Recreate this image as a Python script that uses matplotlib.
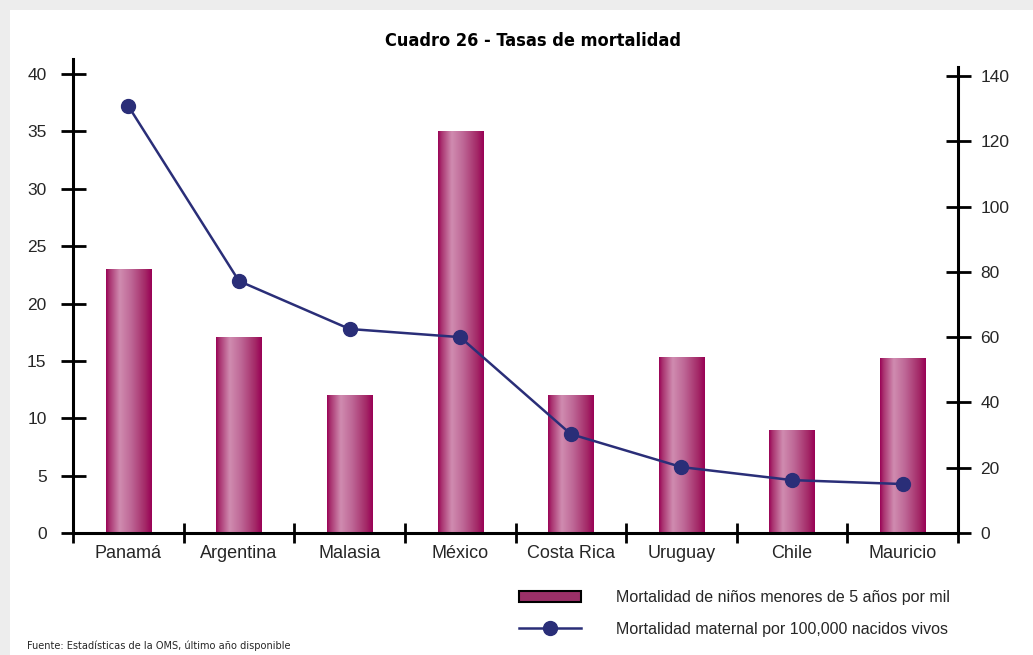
import numpy as np
import matplotlib
matplotlib.use("Agg")
import matplotlib.pyplot as plt
from matplotlib.colors import LinearSegmentedColormap
from matplotlib.patches import Rectangle, Patch
from matplotlib.lines import Line2D

paises = ["Panamá", "Argentina", "Malasia", "México", "Costa Rica", "Uruguay", "Chile", "Mauricio"]
ninos_5 = [23, 17, 12, 35, 12, 15.3, 8.9, 15.2]          # por mil (eje izq.)
maternal = [130.8, 77.2, 62.5, 60, 30.3, 20.2, 16.2, 15]  # por 100,000 (eje der.)
yticks_izq = [0, 5, 10, 15, 20, 25, 30, 35, 40]
yticks_der = [0, 20, 40, 60, 80, 100, 120, 140]

lbl_barra = "Mortalidad de niños menores de 5 años por mil"
lbl_linea = "Mortalidad maternal por 100,000 nacidos vivos"

W, H = 1033, 655
fig = plt.figure(figsize=(W / 100, H / 100), dpi=100, facecolor="#ededed")
# tarjeta blanca
fig.add_artist(Rectangle((10 / W, 0), 1, 1 - 10 / H, transform=fig.transFigure,
                         facecolor="white", edgecolor="none", zorder=-5))

narrow = ["DejaVu Sans"]
txt = ["Liberation Sans", "DejaVu Sans"]
gris = "#262626"

# ejes: y=0 en 533px, 40 en 74px, tope del eje en 59px
ax = fig.add_axes([73 / W, 1 - 533 / H, (958 - 73) / W, (533 - 59) / H])
ax.set_facecolor("none")
x = np.arange(len(paises))

cmap = LinearSegmentedColormap.from_list("barra", [
    (0.0, "#990055"), (0.07, "#a8306e"), (0.30, "#d08cb0"),
    (0.55, "#be6796"), (0.85, "#a42a68"), (1.0, "#990055")])
grad = np.linspace(0, 1, 256).reshape(1, -1)

bars = ax.bar(x, ninos_5, width=0.41, color="none", edgecolor="none")
for r in bars:
    x0, y0 = r.get_x(), r.get_y()
    ax.imshow(grad, cmap=cmap, aspect="auto", interpolation="bicubic",
              extent=[x0, x0 + r.get_width(), y0, y0 + r.get_height()], zorder=2)

ax.set_xlim(-0.5, len(paises) - 0.5)
ax.set_ylim(0, 40 * (533 - 59) / (533 - 74))
ax.set_yticks(yticks_izq)
ax.set_yticklabels([str(v) for v in yticks_izq], family=txt, fontsize=12.5, color=gris)
ax.set_xticks(x)
ax.set_xticklabels(paises, family=txt, fontsize=13, color=gris)
ax.set_xticks(np.arange(len(paises) + 1) - 0.5, minor=True)
ax.tick_params(axis="x", which="major", length=0, pad=9)
ax.tick_params(axis="x", which="minor", direction="inout", length=15, width=2, color="black")
ax.tick_params(axis="y", direction="inout", length=18, width=2, pad=10, color="black")
for lab in ax.get_yticklabels():
    lab.set_verticalalignment("center_baseline")
for s in ["top", "right"]:
    ax.spines[s].set_visible(False)
for s in ["left", "bottom"]:
    ax.spines[s].set_linewidth(2.2)
    ax.spines[s].set_color("black")

ax2 = ax.twinx()
ax2.set_facecolor("none")
top_der = 140 * (533 - 59) / (533 - 76)
ax2.set_ylim(0, top_der)
ax2.plot(x, maternal, color="#2a2e78", lw=1.8, marker="o", markersize=10,
         markerfacecolor="#2a2e78", markeredgecolor="#2a2e78", zorder=5)
ax2.set_yticks(yticks_der)
ax2.set_yticklabels([str(v) for v in yticks_der], family=txt, fontsize=12.5, color=gris)
ax2.tick_params(axis="y", direction="inout", length=18, width=2, pad=7, color="black")
for s in ["top", "left", "bottom"]:
    ax2.spines[s].set_visible(False)
ax2.spines["right"].set_linewidth(2.2)
ax2.spines["right"].set_bounds(0, 140 + (76 - 67) / ((533 - 76) / 140))

fig.text(533 / W, 1 - 41 / H, "Cuadro 26 - Tasas de mortalidad", ha="center", va="center",
         family=narrow, fontstretch="condensed", fontsize=13, fontweight="bold", color="black")

handles = [Patch(facecolor="#9b3068", edgecolor="black", linewidth=1.5),
           Line2D([], [], color="#2a2e78", lw=1.8, marker="o", markersize=10)]
fig.legend(handles, [lbl_barra, lbl_linea], loc="upper left",
           bbox_to_anchor=(519 / W, 1 - 590 / H), frameon=False, borderpad=0,
           borderaxespad=0, handlelength=3.9, handletextpad=2.2, labelspacing=1.05,
           prop={"family": txt, "size": 11.5}, labelcolor=gris)

fig.text(27 / W, 1 - 646 / H, "Fuente: Estadísticas de la OMS, último año disponible",
         ha="left", va="center", family=narrow, fontstretch="condensed", fontsize=7.8, color=gris)

fig.savefig("out.png", dpi=100, facecolor=fig.get_facecolor())
